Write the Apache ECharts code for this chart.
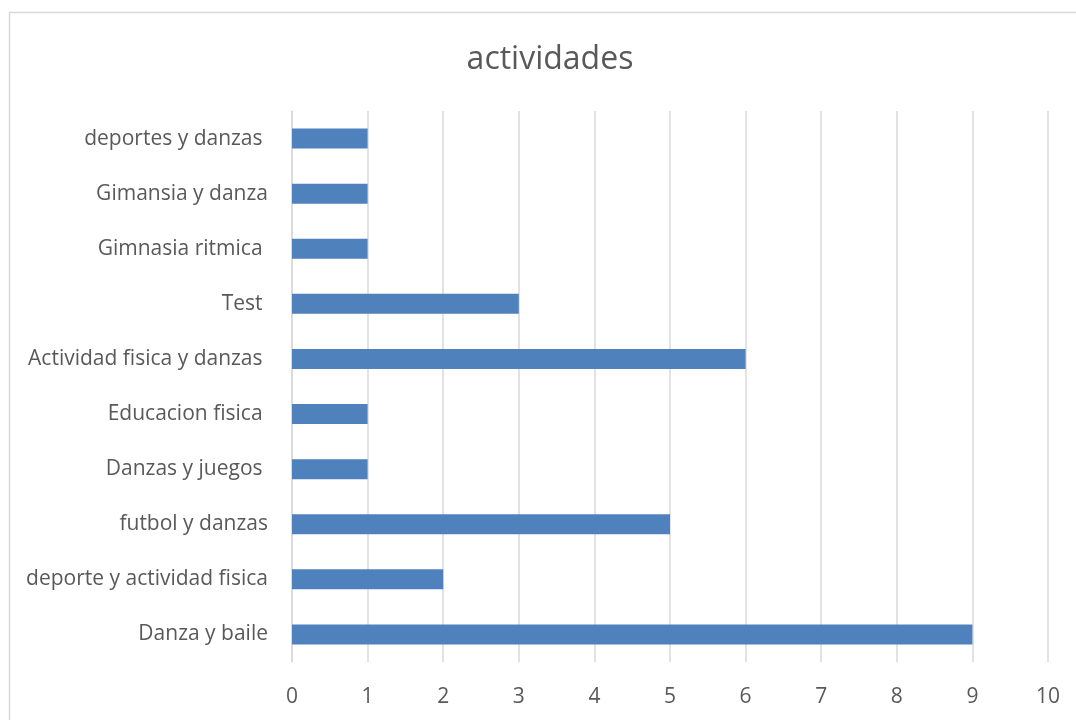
<!DOCTYPE html>
<html>
<head>
<meta charset="utf-8">
<script src="https://cdn.jsdelivr.net/npm/echarts@6/dist/echarts.min.js"></script>
<style>
  html, body { margin: 0; padding: 0; background: #ffffff; }
  #chart { width: 1076px; height: 720px; }
</style>
</head>
<body>
<div id="chart"></div>
<script>
// Activities, listed bottom to top as they appear on the category axis
const categories = [
  'Danza y baile',
  'deporte y actividad fisica',
  'futbol y danzas',
  'Danzas y juegos ',
  'Educacion fisica ',
  'Actividad fisica y danzas ',
  'Test ',
  'Gimnasia ritmica ',
  'Gimansia y danza',
  'deportes y danzas '
];
const counts = [9, 2, 5, 1, 1, 6, 3, 1, 1, 1];
const xTicks = [0, 1, 2, 3, 4, 5, 6, 7, 8, 9, 10];

const font = '"Open Sans", Lato, sans-serif';
const chart = echarts.init(document.getElementById('chart'));
chart.setOption({
  backgroundColor: '#ffffff',
  animation: false,
  title: {
    text: 'actividades',
    left: 545,
    textAlign: 'center',
    top: 39,
    textStyle: { fontFamily: font, fontSize: 32, fontWeight: 'normal', color: '#595959' }
  },
  graphic: [{
    type: 'rect',
    shape: { x: 9.5, y: 12.5, width: 1100, height: 760 },
    style: { fill: 'none', stroke: '#d9d9d9', lineWidth: 1.5 },
    silent: true
  }],
  grid: { left: 292, right: 28, top: 111, bottom: 58 },
  xAxis: {
    type: 'value',
    min: xTicks[0],
    max: xTicks[xTicks.length - 1],
    interval: 1,
    axisLine: { show: false },
    axisTick: { show: false },
    splitLine: { show: true, lineStyle: { color: '#d9d9d9', width: 1.5 } },
    axisLabel: {
      fontFamily: font, fontSize: 21, color: '#595959', margin: 25,
      formatter: v => (xTicks.includes(v) ? String(v) : '')
    }
  },
  yAxis: {
    type: 'category',
    data: categories,
    axisLine: { show: true, lineStyle: { color: '#d9d9d9', width: 1.5 } },
    axisTick: { show: false },
    axisLabel: { fontFamily: font, fontSize: 21, color: '#595959', margin: 24 }
  },
  series: [{
    type: 'bar',
    data: counts,
    barWidth: 20,
    itemStyle: { color: '#4f81bd' }
  }]
});
</script>
</body>
</html>
